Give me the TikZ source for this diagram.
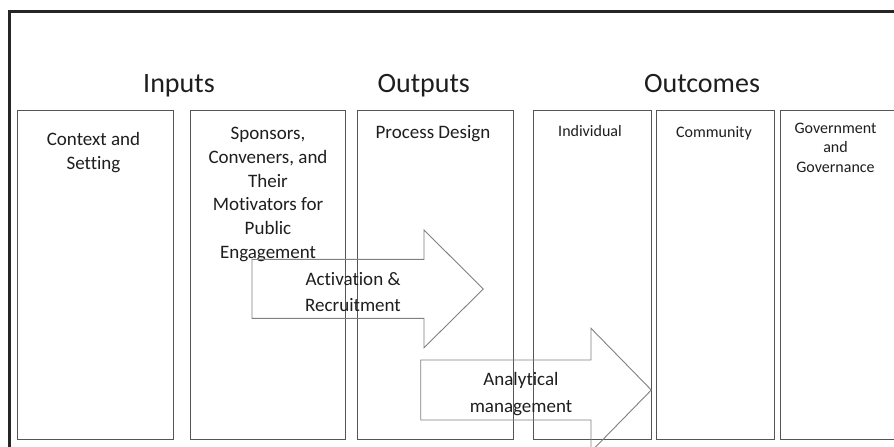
\documentclass[tikz,border=0pt]{standalone}
\usepackage{fontspec}
\setmainfont{Carlito}[Ligatures=NoCommon]
\definecolor{framecol}{HTML}{262626}
\definecolor{boxcol}{HTML}{555555}
\definecolor{arrowcol}{HTML}{808080}
\definecolor{txtcol}{HTML}{1E1E1E}
\begin{document}
\begin{tikzpicture}[x=1pt,y=-1pt,
  panel/.style={draw=boxcol, line width=0.9pt, minimum width=#1, minimum height=329.3pt, inner sep=0pt},
  header/.style={anchor=base, inner sep=0pt, text=txtcol, font=\fontsize{28}{34}\selectfont},
  boxtext/.style={anchor=base, inner sep=0pt, align=center, text=txtcol, font=\fontsize{19}{23.8}\selectfont},
  smalltext/.style={anchor=base, inner sep=0pt, align=center, text=txtcol, font=\fontsize{16}{19.5}\selectfont},
  arrowtext/.style={anchor=base, inner sep=0pt, align=center, text=txtcol, font=\fontsize{19}{26.2}\selectfont},
  bigarrow/.style={draw=arrowcol, line width=0.9pt, line join=miter}]
\clip (0,0) rectangle (894,447);
\fill[white] (0,0) rectangle (894,447);
% frame
\draw[draw=framecol, line width=3.5pt] (930,11.7) -- (9.3,11.7) -- (9.3,470);
% headers
\node[header] (hin) at (179,92.5) {Inputs};
\node[header] (hout) at (423.7,92.5) {Outputs};
\node[header] (hoc) at (702,92.5) {Outcomes};
% panels
\node[panel=156pt] (b1) at (95.3,274.65) {};
\node[panel=155.7pt] (b2) at (267.85,274.65) {};
\node[panel=156pt] (b3) at (435.7,274.65) {};
\node[panel=118pt] (b4) at (592.3,274.65) {};
\node[panel=118pt] (b5) at (715.7,274.65) {};
\node[panel=130pt] (b6) at (845,274.65) {};
% panel texts (anchor = baseline of last line)
\node[boxtext, font=\fontsize{19}{24}\selectfont] (t1) at (93.5,169.5) {Context and\\Setting};
\node[boxtext] (t2) at (268,258.5) {Sponsors,\\Conveners, and\\Their\\Motivators for\\Public\\Engagement};
\node[boxtext] (t3) at (433,138.3) {Process Design};
\node[smalltext] (t4) at (590,136) {Individual};
\node[smalltext] (t5) at (714,137) {Community};
\node[smalltext] (t6) at (835.5,172.3) {Government\\and\\Governance};
% arrows
\draw[bigarrow] (252,259.3) -- (424,259.3) -- (424,230) -- (483.3,289) -- (424,347.7) -- (424,318.3) -- (252,318.3) -- cycle;
\node[arrowtext, font=\fontsize{19}{25.7}\selectfont] (a1) at (353,311.4) {Activation \&\\Recruitment};
\draw[bigarrow] (420.7,360) -- (591,360) -- (591,328.3) -- (651.3,390) -- (591,451.7) -- (591,420) -- (420.7,420) -- cycle;
\node[arrowtext, font=\fontsize{19}{26.7}\selectfont] (a2) at (521,412.4) {Analytical\\management};
\end{tikzpicture}
\end{document}
